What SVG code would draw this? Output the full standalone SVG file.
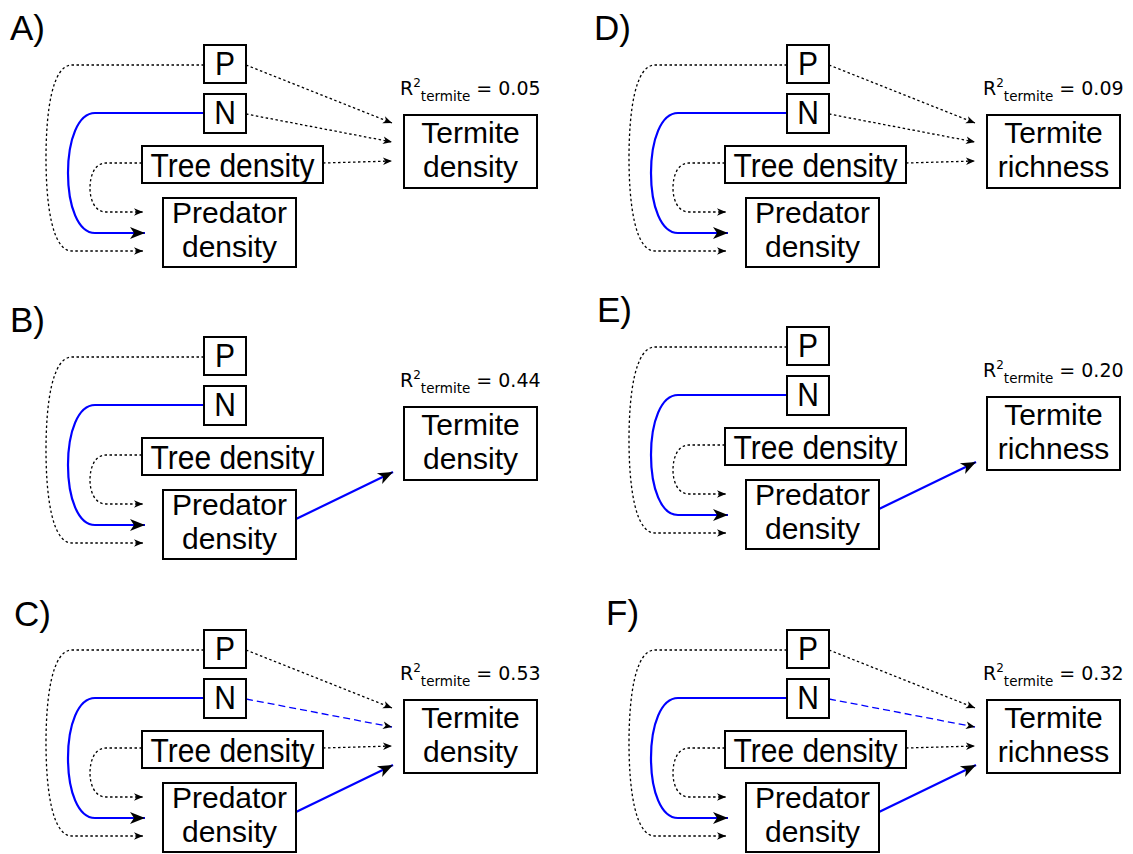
<svg xmlns="http://www.w3.org/2000/svg" width="1133" height="854" viewBox="0 0 1133 854">
<style>
.bg{fill:#fff}
.box{fill:#fff;stroke:#000;stroke-width:2}
.lbl{font-family:"Liberation Sans",Arial,sans-serif;font-size:30px;fill:#000;text-anchor:middle}
.plab{font-family:"Liberation Sans",Arial,sans-serif;font-size:35px;fill:#000}
.r2{font-family:"DejaVu Sans",sans-serif;font-size:19px;fill:#000}
.sup{font-size:12px}
.sub{font-size:13.5px}
.dot{fill:none;stroke:#000;stroke-width:1.3;stroke-dasharray:2.5 2.5;marker-end:url(#ah)}
.bl{fill:none;stroke:#0000ff;stroke-width:2.2;marker-end:url(#ahb)}
.bld{fill:none;stroke:#0000ff;stroke-width:1.3;stroke-dasharray:7 4;marker-end:url(#ah)}
</style>
<defs>
<marker id="ah" markerUnits="userSpaceOnUse" refX="0" refY="0" markerWidth="12" markerHeight="10" orient="auto" overflow="visible"><path d="M0,0 L-9,-3.8 L-6.5,0 L-9,3.8 Z" fill="#000"/></marker>
<marker id="ahb" markerUnits="userSpaceOnUse" refX="0" refY="0" markerWidth="16" markerHeight="14" orient="auto" overflow="visible"><path d="M0,0 L-15,-6 L-11,0 L-15,6 Z" fill="#000"/></marker>
</defs>
<rect class="bg" x="0" y="0" width="1133" height="854"/>

<!-- Panel A -->
<g id="panelA" transform="translate(0,0)">
<text class="plab" x="10" y="40">A)</text>
<g id="A-connectors">
<path class="dot" d="M246,65 L392,123"/>
<path class="dot" d="M246,114 L392,142"/>
<path class="dot" d="M323,163 L392,161"/>
<path class="dot" d="M204,65 H72 C52,65 46,112 46,158 C46,204 52,251 72,251 H143"/>
<path class="bl" d="M204,113 H95 C78,113 68,140 68,173 C68,206 78,233 95,233 H145"/>
<path class="dot" d="M142,163 H106 C95,163 90,175 90,188 C90,200 95,212 106,212 H143"/>
</g>
<g id="A-P"><rect class="box" x="204" y="45" width="42" height="38"/><text class="lbl" transform="translate(225,75) scale(1,1.08)">P</text></g>
<g id="A-N"><rect class="box" x="204" y="94" width="42" height="39"/><text class="lbl" transform="translate(225,124) scale(1,1.08)">N</text></g>
<g id="A-Tree"><rect class="box" x="142" y="146" width="181" height="37"/><text class="lbl" transform="translate(232.5,176.5) scale(1,1.08)">Tree density</text></g>
<g id="A-Pred"><rect class="box" x="163" y="198" width="133" height="69"/><text class="lbl" x="229.5" y="222.5">Predator</text><text class="lbl" x="229.5" y="256.5">density</text></g>
<g id="A-Termite"><rect class="box" x="404" y="115" width="133" height="73"/><text class="lbl" x="470.5" y="142.5">Termite</text><text class="lbl" x="470.5" y="176.5">density</text></g>
<text class="r2" x="400" y="95">R<tspan class="sup" dy="-8">2</tspan><tspan class="sub" dy="14">termite</tspan><tspan dy="-6"> = 0.05</tspan></text>
</g>

<!-- Panel B -->
<g id="panelB" transform="translate(0,292)">
<text class="plab" x="10" y="40">B)</text>
<g id="B-connectors">
<path class="bl" d="M296,227 L393,180"/>
<path class="dot" d="M204,65 H72 C52,65 46,112 46,158 C46,204 52,251 72,251 H143"/>
<path class="bl" d="M204,113 H95 C78,113 68,140 68,173 C68,206 78,233 95,233 H145"/>
<path class="dot" d="M142,163 H106 C95,163 90,175 90,188 C90,200 95,212 106,212 H143"/>
</g>
<g id="B-P"><rect class="box" x="204" y="45" width="42" height="38"/><text class="lbl" transform="translate(225,75) scale(1,1.08)">P</text></g>
<g id="B-N"><rect class="box" x="204" y="94" width="42" height="39"/><text class="lbl" transform="translate(225,124) scale(1,1.08)">N</text></g>
<g id="B-Tree"><rect class="box" x="142" y="146" width="181" height="37"/><text class="lbl" transform="translate(232.5,176.5) scale(1,1.08)">Tree density</text></g>
<g id="B-Pred"><rect class="box" x="163" y="198" width="133" height="69"/><text class="lbl" x="229.5" y="222.5">Predator</text><text class="lbl" x="229.5" y="256.5">density</text></g>
<g id="B-Termite"><rect class="box" x="404" y="115" width="133" height="73"/><text class="lbl" x="470.5" y="142.5">Termite</text><text class="lbl" x="470.5" y="176.5">density</text></g>
<text class="r2" x="400" y="95">R<tspan class="sup" dy="-8">2</tspan><tspan class="sub" dy="14">termite</tspan><tspan dy="-6"> = 0.44</tspan></text>
</g>

<!-- Panel C -->
<g id="panelC" transform="translate(0,585)">
<text class="plab" x="14" y="41">C)</text>
<g id="C-connectors">
<path class="dot" d="M246,65 L392,123"/>
<path class="bld" d="M246,114 L392,142"/>
<path class="dot" d="M323,163 L392,161"/>
<path class="bl" d="M296,227 L393,180"/>
<path class="dot" d="M204,65 H72 C52,65 46,112 46,158 C46,204 52,251 72,251 H143"/>
<path class="bl" d="M204,113 H95 C78,113 68,140 68,173 C68,206 78,233 95,233 H145"/>
<path class="dot" d="M142,163 H106 C95,163 90,175 90,188 C90,200 95,212 106,212 H143"/>
</g>
<g id="C-P"><rect class="box" x="204" y="45" width="42" height="38"/><text class="lbl" transform="translate(225,75) scale(1,1.08)">P</text></g>
<g id="C-N"><rect class="box" x="204" y="94" width="42" height="39"/><text class="lbl" transform="translate(225,124) scale(1,1.08)">N</text></g>
<g id="C-Tree"><rect class="box" x="142" y="146" width="181" height="37"/><text class="lbl" transform="translate(232.5,176.5) scale(1,1.08)">Tree density</text></g>
<g id="C-Pred"><rect class="box" x="163" y="198" width="133" height="69"/><text class="lbl" x="229.5" y="222.5">Predator</text><text class="lbl" x="229.5" y="256.5">density</text></g>
<g id="C-Termite"><rect class="box" x="404" y="115" width="133" height="73"/><text class="lbl" x="470.5" y="142.5">Termite</text><text class="lbl" x="470.5" y="176.5">density</text></g>
<text class="r2" x="400" y="95">R<tspan class="sup" dy="-8">2</tspan><tspan class="sub" dy="14">termite</tspan><tspan dy="-6"> = 0.53</tspan></text>
</g>

<!-- Panel D -->
<g id="panelD" transform="translate(583,0)">
<text class="plab" x="11" y="40">D)</text>
<g id="D-connectors">
<path class="dot" d="M246,65 L392,123"/>
<path class="dot" d="M246,114 L392,142"/>
<path class="dot" d="M323,163 L392,161"/>
<path class="dot" d="M204,65 H72 C52,65 46,112 46,158 C46,204 52,251 72,251 H143"/>
<path class="bl" d="M204,113 H95 C78,113 68,140 68,173 C68,206 78,233 95,233 H145"/>
<path class="dot" d="M142,163 H106 C95,163 90,175 90,188 C90,200 95,212 106,212 H143"/>
</g>
<g id="D-P"><rect class="box" x="204" y="45" width="42" height="38"/><text class="lbl" transform="translate(225,75) scale(1,1.08)">P</text></g>
<g id="D-N"><rect class="box" x="204" y="94" width="42" height="39"/><text class="lbl" transform="translate(225,124) scale(1,1.08)">N</text></g>
<g id="D-Tree"><rect class="box" x="142" y="146" width="181" height="37"/><text class="lbl" transform="translate(232.5,176.5) scale(1,1.08)">Tree density</text></g>
<g id="D-Pred"><rect class="box" x="163" y="198" width="133" height="69"/><text class="lbl" x="229.5" y="222.5">Predator</text><text class="lbl" x="229.5" y="256.5">density</text></g>
<g id="D-Termite"><rect class="box" x="404" y="115" width="133" height="73"/><text class="lbl" x="470.5" y="142.5">Termite</text><text class="lbl" x="470.5" y="176.5">richness</text></g>
<text class="r2" x="400" y="95">R<tspan class="sup" dy="-8">2</tspan><tspan class="sub" dy="14">termite</tspan><tspan dy="-6"> = 0.09</tspan></text>
</g>

<!-- Panel E -->
<g id="panelE" transform="translate(583,282)">
<text class="plab" x="14" y="40">E)</text>
<g id="E-connectors">
<path class="bl" d="M296,227 L393,180"/>
<path class="dot" d="M204,65 H72 C52,65 46,112 46,158 C46,204 52,251 72,251 H143"/>
<path class="bl" d="M204,113 H95 C78,113 68,140 68,173 C68,206 78,233 95,233 H145"/>
<path class="dot" d="M142,163 H106 C95,163 90,175 90,188 C90,200 95,212 106,212 H143"/>
</g>
<g id="E-P"><rect class="box" x="204" y="45" width="42" height="38"/><text class="lbl" transform="translate(225,75) scale(1,1.08)">P</text></g>
<g id="E-N"><rect class="box" x="204" y="94" width="42" height="39"/><text class="lbl" transform="translate(225,124) scale(1,1.08)">N</text></g>
<g id="E-Tree"><rect class="box" x="142" y="146" width="181" height="37"/><text class="lbl" transform="translate(232.5,176.5) scale(1,1.08)">Tree density</text></g>
<g id="E-Pred"><rect class="box" x="163" y="198" width="133" height="69"/><text class="lbl" x="229.5" y="222.5">Predator</text><text class="lbl" x="229.5" y="256.5">density</text></g>
<g id="E-Termite"><rect class="box" x="404" y="115" width="133" height="73"/><text class="lbl" x="470.5" y="142.5">Termite</text><text class="lbl" x="470.5" y="176.5">richness</text></g>
<text class="r2" x="400" y="95">R<tspan class="sup" dy="-8">2</tspan><tspan class="sub" dy="14">termite</tspan><tspan dy="-6"> = 0.20</tspan></text>
</g>

<!-- Panel F -->
<g id="panelF" transform="translate(583,585)">
<text class="plab" x="23" y="40">F)</text>
<g id="F-connectors">
<path class="dot" d="M246,65 L392,123"/>
<path class="bld" d="M246,114 L392,142"/>
<path class="dot" d="M323,163 L392,161"/>
<path class="bl" d="M296,227 L393,180"/>
<path class="dot" d="M204,65 H72 C52,65 46,112 46,158 C46,204 52,251 72,251 H143"/>
<path class="bl" d="M204,113 H95 C78,113 68,140 68,173 C68,206 78,233 95,233 H145"/>
<path class="dot" d="M142,163 H106 C95,163 90,175 90,188 C90,200 95,212 106,212 H143"/>
</g>
<g id="F-P"><rect class="box" x="204" y="45" width="42" height="38"/><text class="lbl" transform="translate(225,75) scale(1,1.08)">P</text></g>
<g id="F-N"><rect class="box" x="204" y="94" width="42" height="39"/><text class="lbl" transform="translate(225,124) scale(1,1.08)">N</text></g>
<g id="F-Tree"><rect class="box" x="142" y="146" width="181" height="37"/><text class="lbl" transform="translate(232.5,176.5) scale(1,1.08)">Tree density</text></g>
<g id="F-Pred"><rect class="box" x="163" y="198" width="133" height="69"/><text class="lbl" x="229.5" y="222.5">Predator</text><text class="lbl" x="229.5" y="256.5">density</text></g>
<g id="F-Termite"><rect class="box" x="404" y="115" width="133" height="73"/><text class="lbl" x="470.5" y="142.5">Termite</text><text class="lbl" x="470.5" y="176.5">richness</text></g>
<text class="r2" x="400" y="95">R<tspan class="sup" dy="-8">2</tspan><tspan class="sub" dy="14">termite</tspan><tspan dy="-6"> = 0.32</tspan></text>
</g>
</svg>
